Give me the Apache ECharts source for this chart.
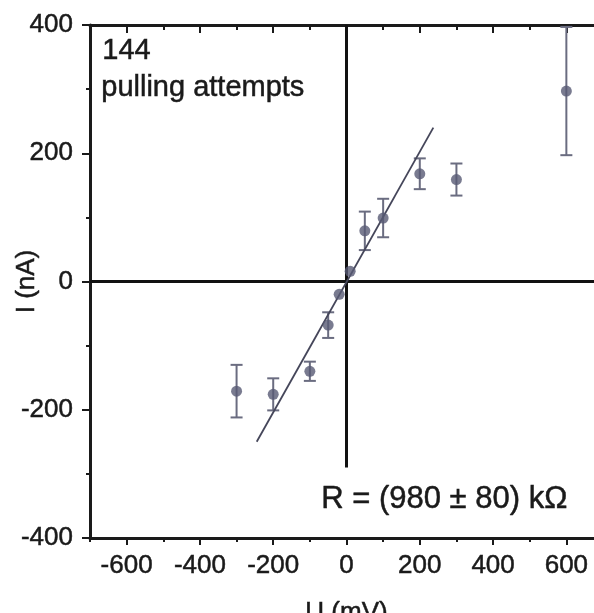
<!DOCTYPE html>
<html>
<head>
<meta charset="utf-8">
<script src="https://cdn.jsdelivr.net/npm/echarts@6/dist/echarts.min.js"></script>
<style>
  html, body { margin: 0; padding: 0; background: #fff; }
  #chart { width: 594px; height: 613px; }
</style>
</head>
<body>
<div id="chart"></div>
<script>
// measured points: bias voltage (mV), current (nA), error (nA)
const voltages = [-300, -200, -100, -50, -20, 10, 50, 100, 200, 300, 600];
const currents = [-171, -176, -140, -68, -20, 16, 79, 99, 168, 159, 297];
const errors   = [41, 25, 15, 20, 0, 0, 30, 30, 24, 25, 100];

// linear fit, R = 980 kOhm
const fitLine = [[-245, -250], [237, 240]];

// zero reference lines
const zeroH = [[-700, 0], [700, 0]];
const zeroV = [[0, 400], [0, -290]];

const xMajorTicks = [-600, -400, -200, 0, 200, 400, 600];
const xMinorTicks = [-700, -500, -300, -100, 100, 300, 500, 700];

const fontFam = "'Liberation Sans', Arial, sans-serif";
const inkColor = "#1a1a1a";
const pointColor = "#585a74";
const barColor = "#6a6c80";

const chart = echarts.init(document.getElementById("chart"), null, { renderer: "canvas" });

const points = voltages.map((v, i) => [v, currents[i]]);
const bars = voltages.map((v, i) => [v, currents[i] - errors[i], currents[i] + errors[i]])
  .filter((d, i) => errors[i] > 0);

//draw vertical error bar with caps
function renderErrorBar(params, api) {
  const x = api.value(0);
  const lo = api.coord([x, api.value(1)]);
  const hi = api.coord([x, api.value(2)]);
  const w = 6;
  const style = { stroke: barColor, lineWidth: 2 };
  return {
    type: "group",
    children: [
      { type: "line", shape: { x1: lo[0], y1: lo[1], x2: hi[0], y2: hi[1] }, style },
      { type: "line", shape: { x1: lo[0] - w, y1: lo[1], x2: lo[0] + w, y2: lo[1] }, style },
      { type: "line", shape: { x1: hi[0] - w, y1: hi[1], x2: hi[0] + w, y2: hi[1] }, style }
    ]
  };
}

const axisLineStyle = { color: inkColor, width: 3 };
// scanned figure text looks a little heavier than plain regular weight
const heavy = { textBorderColor: inkColor, textBorderWidth: 0.5 };

const option = {
  animation: false,
  backgroundColor: "#fff",
  grid: { left: 90, top: 25, right: -9, bottom: 75, containLabel: false, outerBoundsMode: "none" },
  xAxis: [
    {
      type: "value", position: "bottom", min: -700, max: 700,
      axisLine: { show: true, onZero: false, lineStyle: axisLineStyle },
      axisTick: { show: true, customValues: xMajorTicks, length: 7, lineStyle: { color: inkColor, width: 2 } },
      axisLabel: { customValues: xMajorTicks, color: inkColor, fontSize: 26, fontFamily: fontFam, margin: 15, ...heavy },
      splitLine: { show: false },
      name: "U (mV)", nameLocation: "middle", nameGap: 62, nameMoveOverlap: false,
      nameTextStyle: { color: inkColor, fontSize: 26, fontFamily: fontFam, ...heavy }
    },
    {
      type: "value", position: "bottom", min: -700, max: 700,
      axisLine: { show: false, onZero: false },
      axisTick: { show: true, customValues: xMinorTicks, length: 4, lineStyle: { color: inkColor, width: 2 } },
      axisLabel: { show: false },
      splitLine: { show: false }
    },
    {
      type: "value", position: "top", min: -700, max: 700,
      axisLine: { show: true, onZero: false, lineStyle: axisLineStyle },
      axisTick: { show: true, inside: true, customValues: xMajorTicks, length: 8, lineStyle: { color: inkColor, width: 2 } },
      axisLabel: { show: false },
      splitLine: { show: false }
    },
    {
      type: "value", position: "top", min: -700, max: 700,
      axisLine: { show: false, onZero: false },
      axisTick: { show: true, inside: true, customValues: xMinorTicks, length: 5, lineStyle: { color: inkColor, width: 2 } },
      axisLabel: { show: false },
      splitLine: { show: false }
    }
  ],
  yAxis: [
    {
      type: "value", position: "left", min: -400, max: 400, interval: 200,
      axisLine: { show: true, onZero: false, lineStyle: axisLineStyle },
      axisTick: { show: true, length: 8, lineStyle: { color: inkColor, width: 2 } },
      minorTick: { show: true, splitNumber: 2, length: 4, lineStyle: { color: inkColor, width: 2 } },
      axisLabel: { color: inkColor, fontSize: 26, fontFamily: fontFam, margin: 17, ...heavy },
      splitLine: { show: false },
      name: "I (nA)", nameLocation: "middle", nameGap: 50, nameRotate: 90, nameMoveOverlap: false,
      nameTextStyle: { color: inkColor, fontSize: 26, fontFamily: fontFam, ...heavy }
    }
  ],
  series: [
    {
      type: "line", data: zeroH, symbol: "none", silent: true,
      lineStyle: { color: "#111", width: 3 }
    },
    {
      type: "line", data: zeroV, symbol: "none", silent: true,
      lineStyle: { color: "#111", width: 3 }
    },
    {
      type: "line", data: fitLine, symbol: "none", silent: true,
      lineStyle: { color: "#45465a", width: 1.8 }
    },
    {
      type: "custom", data: bars, renderItem: renderErrorBar,
      encode: { x: 0, y: [1, 2] }, z: 3
    },
    {
      type: "scatter", data: points, symbol: "circle", symbolSize: 11,
      itemStyle: { color: pointColor }, z: 4
    }
  ],
  graphic: [
    {
      type: "text", left: 102, top: 36,
      style: { text: "144", fill: inkColor, fontSize: 29, fontFamily: fontFam, stroke: inkColor, lineWidth: 0.5 }
    },
    {
      type: "text", left: 101, top: 73,
      style: { text: "pulling attempts", fill: inkColor, fontSize: 29, fontFamily: fontFam, stroke: inkColor, lineWidth: 0.5 }
    },
    {
      type: "text", left: 321, top: 484,
      style: { text: "R = (980 ± 80) kΩ", fill: inkColor, fontSize: 31, fontFamily: fontFam, stroke: inkColor, lineWidth: 0.5 }
    }
  ]
};

chart.setOption(option);
</script>
</body>
</html>
